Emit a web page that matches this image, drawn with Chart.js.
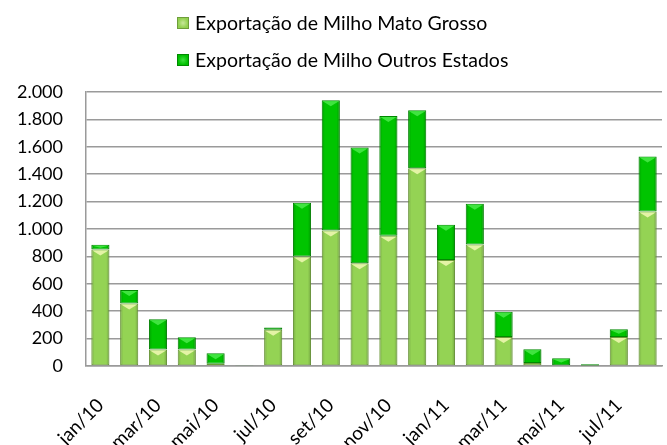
<!DOCTYPE html>
<html>
<head>
<meta charset="utf-8">
<script src="https://cdn.jsdelivr.net/npm/chart.js@4/dist/chart.umd.min.js"></script>
<style>
  html,body{margin:0;padding:0;background:#fff;}
  #wrap{position:relative;width:667px;height:445px;overflow:hidden;}
  #c{position:absolute;left:0;top:0;}
  .leg{position:absolute;left:177px;height:24px;font-family:Lato,"Liberation Sans",sans-serif;font-size:19.5px;line-height:24px;color:#000;white-space:nowrap;display:flex;align-items:center;}
  .sw{display:inline-block;width:12px;height:12px;margin-right:6px;box-sizing:border-box;}
</style>
</head>
<body>
<div id="wrap">
  <canvas id="c" width="667" height="445"></canvas>
  <div class="leg" style="top:11px"><span class="sw" style="background:radial-gradient(circle,#C8E89A 0%,#92D050 70%);border:1px solid #6E9E3A"></span>Exportação de Milho Mato Grosso</div>
  <div class="leg" style="top:48px"><span class="sw" style="background:radial-gradient(circle,#40E040 0%,#00C000 70%);border:1px solid #008A00"></span>Exportação de Milho Outros Estados</div>
</div>
<script>
const months = ["jan/10","fev/10","mar/10","abr/10","mai/10","jun/10","jul/10","ago/10","set/10","out/10","nov/10","dez/10","jan/11","fev/11","mar/11","abr/11","mai/11","jun/11","jul/11","ago/11"];
const matoGrosso = [850, 457, 120, 120, 17, 5, 264, 800, 989, 750, 950, 1443, 774, 886, 212, 22, 5, 3, 212, 1128];
const outrosEstados = [35, 97, 222, 90, 76, 2, 17, 392, 950, 845, 874, 423, 257, 298, 184, 100, 51, 9, 57, 401];
const yTicks = [0, 200, 400, 600, 800, 1000, 1200, 1400, 1600, 1800, 2000];

const bevel = {
  id: 'bevel',
  afterDatasetsDraw(chart) {
    const ctx = chart.ctx;
    const cols = ['#E4F3A6', '#3FE43F'];
    chart.data.datasets.forEach((ds, di) => {
      const meta = chart.getDatasetMeta(di);
      meta.data.forEach(bar => {
        const h = bar.base - bar.y;
        if (h < 1) return;
        const w = bar.width;
        const left = bar.x - w / 2, right = bar.x + w / 2;
        ctx.save();
        // edge shading
        const g = ctx.createLinearGradient(left, 0, right, 0);
        g.addColorStop(0, 'rgba(0,0,0,0.18)');
        g.addColorStop(0.18, 'rgba(0,0,0,0)');
        g.addColorStop(0.82, 'rgba(0,0,0,0)');
        g.addColorStop(1, 'rgba(0,0,0,0.22)');
        ctx.fillStyle = g;
        ctx.fillRect(left + 0.5, bar.y + 0.5, w - 1, h - 1);
        if (h >= 3) {
          const th = Math.min(6, h * 0.6);
          ctx.fillStyle = cols[di];
          ctx.beginPath();
          ctx.moveTo(left + 1, bar.y + 1);
          ctx.lineTo(right - 1, bar.y + 1);
          ctx.lineTo(bar.x, bar.y + th);
          ctx.closePath();
          ctx.fill();
        }
        ctx.restore();
      });
    });
  }
};

new Chart(document.getElementById('c'), {
  type: 'bar',
  data: {
    labels: months,
    datasets: [
      { label: 'Exportação de Milho Mato Grosso', data: matoGrosso, backgroundColor: '#94D354', borderColor: '#6E9E3A', borderWidth: 1, borderSkipped: false },
      { label: 'Exportação de Milho Outros Estados', data: outrosEstados, backgroundColor: '#00C400', borderColor: '#008A00', borderWidth: 1, borderSkipped: false }
    ]
  },
  options: {
    responsive: false,
    animation: false,
    layout: { padding: { left: 0, right: 5, top: 92, bottom: 0 } },
    plugins: { legend: { display: false }, tooltip: { enabled: false } },
    datasets: { bar: { categoryPercentage: 1.0, barPercentage: 0.63 } },
    scales: {
      x: {
        stacked: true,
        grid: { display: false, drawTicks: false },
        border: { display: true, color: '#9A9A9A', width: 1.5 },
        afterFit: function (axis) { axis.height = 79; axis.paddingLeft = 0; axis.paddingRight = 0; },
        ticks: {
          autoSkip: false, maxRotation: 45, minRotation: 45, padding: 28,
          color: '#000', font: { family: 'Lato', size: 19 },
          callback: function (v, i) { return i % 2 === 0 ? months[i] : ''; }
        }
      },
      y: {
        stacked: true,
        min: 0, max: 2000,
        afterBuildTicks: function (axis) { axis.ticks = yTicks.map(v => ({ value: v })); },
        afterFit: function (axis) { axis.width = 86; axis.paddingTop = 0; axis.paddingBottom = 0; },
        grid: { color: '#9A9A9A', lineWidth: 1.5, drawTicks: false },
        border: { display: true, color: '#9A9A9A', width: 1.5 },
        ticks: {
          padding: 23, color: '#000', font: { family: 'Lato', size: 18 },
          callback: function (v) { return v.toLocaleString('de-DE'); }
        }
      }
    }
  },
  plugins: [bevel]
});
</script>
</body>
</html>
